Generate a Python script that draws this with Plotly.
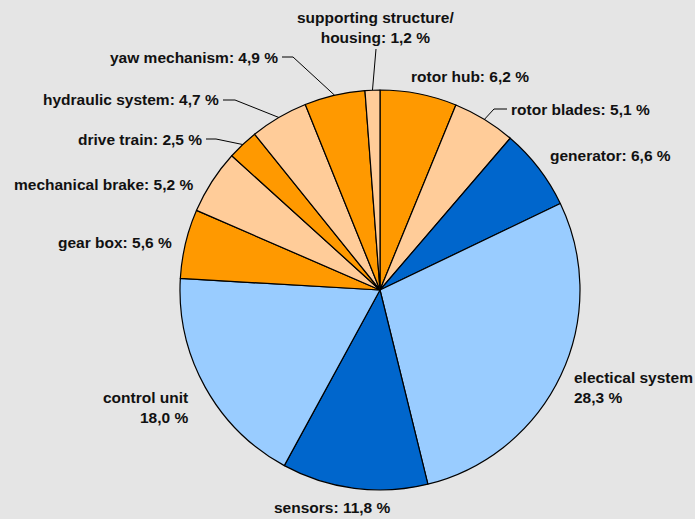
import math
import plotly.graph_objects as go

# ---- data ----
components = ["rotor hub", "rotor blades", "generator", "electical system", "sensors",
              "control unit", "gear box", "mechanical brake", "drive train",
              "hydraulic system", "yaw mechanism", "supporting structure/housing"]
shares = [6.2, 5.1, 6.6, 28.3, 11.8, 18.0, 5.6, 5.2, 2.5, 4.7, 4.9, 1.2]
label_texts = ["rotor hub: 6,2 %", "rotor blades: 5,1 %", "generator: 6,6 %",
               "electical system<br>28,3 %", "sensors: 11,8 %", "control unit<br>18,0 %",
               "gear box: 5,6 %", "mechanical brake: 5,2 %", "drive train: 2,5 %",
               "hydraulic system: 4,7 %", "yaw mechanism: 4,9 %",
               "supporting structure/<br>housing: 1,2 %"]

# ---- style ----
W, H = 695, 519
CX, CY, R = 380, 290, 200
ORANGE, LORANGE, DBLUE, LBLUE = "#FF9900", "#FFCC99", "#0066CC", "#99CCFF"
colors = [ORANGE, LORANGE, DBLUE, LBLUE, DBLUE, LBLUE, ORANGE, LORANGE, ORANGE,
          LORANGE, ORANGE, LORANGE]
FONT = dict(family="Liberation Sans, Arial, sans-serif", size=15.5, color="#111111",
            weight="bold")

# label placement in pixels: (x, y, xanchor, align, elbow_x or None, leader)
label_pos = [
    (409, 76, "left", "left", None, False),
    (509, 109, "left", "left", 494, True),
    (548, 155, "left", "left", None, False),
    (572, 387, "left", "left", None, False),
    (332, 507, "center", "center", None, False),
    (190, 407, "right", "right", None, False),
    (174, 242, "right", "right", None, False),
    (195, 184, "right", "right", None, False),
    (204, 139, "right", "right", 216, True),
    (221, 100, "right", "right", 235, True),
    (280, 57, "right", "right", 293, True),
    (375, 27, "center", "center", None, True),
]


def px(x):
    return x / W


def py(y):
    return 1 - y / H


fig = go.Figure(go.Pie(
    labels=components, values=shares, sort=False, direction="clockwise", rotation=0,
    marker=dict(colors=colors, line=dict(color="#000000", width=1.2)),
    textinfo="none", hoverinfo="skip", showlegend=False,
    domain=dict(x=[px(CX - R), px(CX + R)], y=[py(CY + R), py(CY - R)]),
))

total = sum(shares)
cum = 0.0
annotations = []
shapes = []
for i, v in enumerate(shares):
    mid = (cum + v / 2) / total * 2 * math.pi
    cum += v
    ex = CX + R * math.sin(mid)
    ey = CY - R * math.cos(mid)
    lx, ly, xa, al, elbow, leader = label_pos[i]
    annotations.append(dict(x=px(lx), y=py(ly), xref="paper", yref="paper", text=label_texts[i],
                            showarrow=False, xanchor=xa, yanchor="middle", align=al,
                            font=FONT))
    if leader:
        if elbow is None:
            start = (lx + 1, ly + 22)
            path = f"M {px(start[0])},{py(start[1])} L {px(ex)},{py(ey)}"
        else:
            sx = lx + 2 if xa == "right" else lx - 2
            path = (f"M {px(sx)},{py(ly)} L {px(elbow)},{py(ly)} "
                    f"L {px(ex)},{py(ey)}")
        shapes.append(dict(type="path", path=path, xref="paper", yref="paper",
                           line=dict(color="#000000", width=1)))

fig.update_layout(
    width=W, height=H, margin=dict(l=0, r=0, t=0, b=0),
    paper_bgcolor="#E5E5E5", plot_bgcolor="#E5E5E5",
    annotations=annotations, shapes=shapes,
)

fig.write_html("out.html")
